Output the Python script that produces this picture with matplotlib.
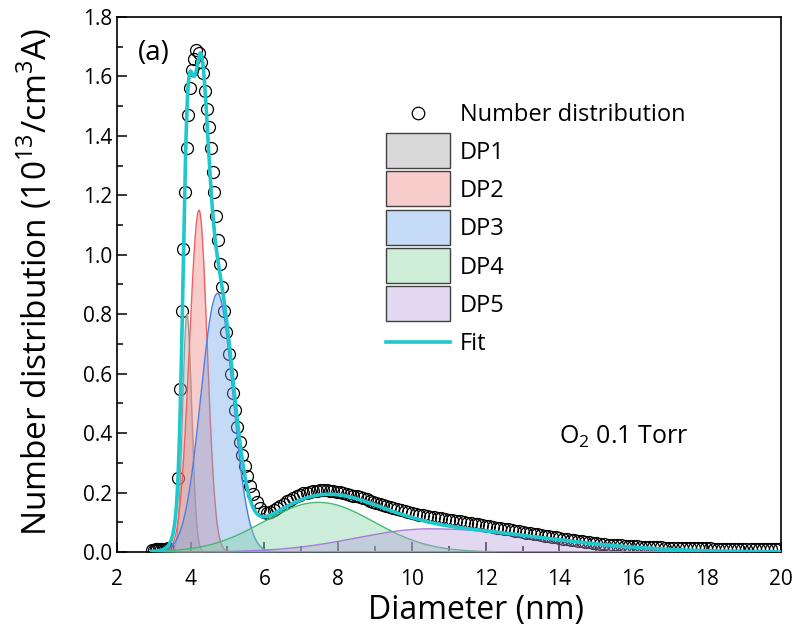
import numpy as np
import matplotlib.pyplot as plt
from matplotlib.patches import Patch, Rectangle
from matplotlib.lines import Line2D
from matplotlib.legend_handler import HandlerPatch

plt.rcParams['font.family'] = ['Open Sans', 'DejaVu Sans']
plt.rcParams['mathtext.fontset'] = 'custom'
plt.rcParams['mathtext.rm'] = 'Open Sans'

diameter = [
    2.95, 3.00, 3.05, 3.10, 3.15, 3.20, 3.25, 3.30, 3.35, 3.40,
    3.67, 3.71, 3.76, 3.80, 3.85, 3.89, 3.93, 3.98, 4.03, 4.09,
    4.16, 4.22, 4.28, 4.33, 4.39, 4.44, 4.49, 4.55, 4.60, 4.64,
    4.69, 4.75, 4.80, 4.85, 4.91, 4.96, 5.03, 5.09, 5.14, 5.21,
    5.27, 5.34, 5.40, 5.47, 5.54, 5.61, 5.70, 5.80, 5.89, 5.98,
    6.07, 6.16, 6.25, 6.34, 6.43, 6.52, 6.61, 6.70, 6.79, 6.88,
    6.97, 7.06, 7.15, 7.24, 7.33, 7.42, 7.51, 7.60, 7.69, 7.78,
    7.87, 7.96, 8.05, 8.14, 8.23, 8.32, 8.41, 8.50, 8.59, 8.68,
    8.77, 8.86, 8.95, 9.04, 9.13, 9.22, 9.31, 9.40, 9.50, 9.60,
    9.70, 9.80, 9.90, 10.00, 10.10, 10.20, 10.30, 10.40, 10.50, 10.60,
    10.70, 10.80, 10.90, 11.00, 11.10, 11.20, 11.30, 11.40, 11.50, 11.60,
    11.70, 11.80, 11.90, 12.00, 12.10, 12.20, 12.30, 12.40, 12.50, 12.60,
    12.70, 12.80, 12.90, 13.00, 13.10, 13.20, 13.30, 13.40, 13.50, 13.60,
    13.70, 13.80, 13.90, 14.00, 14.10, 14.20, 14.30, 14.40, 14.50, 14.60,
    14.70, 14.80, 14.90, 15.00, 15.11, 15.22, 15.33, 15.44, 15.55, 15.66,
    15.77, 15.88, 15.99, 16.10, 16.21, 16.32, 16.43, 16.54, 16.65, 16.76,
    16.87, 16.98, 17.09, 17.20, 17.31, 17.42, 17.53, 17.64, 17.75, 17.86,
    17.97, 18.08, 18.19, 18.30, 18.41, 18.52, 18.63, 18.74, 18.85, 18.96,
    19.07, 19.18, 19.29, 19.40, 19.51, 19.62, 19.73, 19.84, 19.95,
]
number_dist = [
    0.008, 0.008, 0.009, 0.009, 0.010, 0.010, 0.010, 0.011, 0.011, 0.012,
    0.25, 0.55, 0.81, 1.02, 1.21, 1.36, 1.47, 1.56, 1.62, 1.66,
    1.69, 1.68, 1.65, 1.61, 1.55, 1.49, 1.43, 1.36, 1.28, 1.21,
    1.13, 1.05, 0.97, 0.89, 0.81, 0.74, 0.665, 0.60, 0.535, 0.478,
    0.422, 0.371, 0.328, 0.290, 0.255, 0.222, 0.195, 0.168, 0.147, 0.135,
    0.130, 0.133, 0.140, 0.148, 0.156, 0.163, 0.170, 0.176, 0.182, 0.188,
    0.193, 0.197, 0.200, 0.203, 0.205, 0.206, 0.207, 0.207, 0.207, 0.206,
    0.205, 0.203, 0.201, 0.199, 0.196, 0.193, 0.190, 0.187, 0.184, 0.180,
    0.177, 0.173, 0.169, 0.165, 0.162, 0.158, 0.155, 0.152, 0.148, 0.145,
    0.141, 0.138, 0.135, 0.132, 0.129, 0.126, 0.124, 0.121, 0.119, 0.117,
    0.115, 0.113, 0.111, 0.109, 0.107, 0.105, 0.103, 0.101, 0.099, 0.097,
    0.095, 0.093, 0.091, 0.089, 0.086, 0.084, 0.082, 0.080, 0.078, 0.076,
    0.074, 0.071, 0.069, 0.067, 0.065, 0.063, 0.061, 0.059, 0.057, 0.055,
    0.053, 0.051, 0.049, 0.047, 0.045, 0.043, 0.041, 0.039, 0.037, 0.036,
    0.034, 0.033, 0.031, 0.030, 0.028, 0.027, 0.025, 0.024, 0.023, 0.022,
    0.021, 0.020, 0.019, 0.019, 0.018, 0.018, 0.017, 0.017, 0.016, 0.016,
    0.015, 0.015, 0.015, 0.014, 0.014, 0.013, 0.013, 0.013, 0.012, 0.012,
    0.012, 0.012, 0.011, 0.011, 0.011, 0.011, 0.010, 0.010, 0.010, 0.010,
    0.010, 0.009, 0.009, 0.009, 0.009, 0.009, 0.009, 0.009, 0.009,
]

# fitted peaks (centre, height, left / right width)
dp_names = ['DP1', 'DP2', 'DP3', 'DP4', 'DP5']
dp_center = [3.90, 4.23, 4.73, 7.47, 10.5]
dp_height = [0.80, 1.15, 0.87, 0.167, 0.078]
dp_sig_left = [0.115, 0.26, 0.45, 1.5, 2.0]
dp_sig_right = [0.13, 0.22, 0.42, 1.5, 3.1]

dp_fill = ['#a0a0a0', '#f08080', '#70a5e6', '#7fd3a1', '#b99ede']
dp_light = ['#d9d9d9', '#f9cccc', '#c6dbf5', '#cdedd9', '#e3d8f2']
dp_edge = ['#9a9a9a', '#f06060', '#4a7fe6', '#45b872', '#a57ad8']
fit_color = '#1ec8cc'


def split_peak(x, c, h, sl, sr):
    s = np.where(x < c, sl, sr)
    return h * np.exp(-(x - c) ** 2 / (2 * s ** 2))


def tall_box(legend, orig_handle, xdescent, ydescent, width, height, fontsize):
    # legend swatch taller than the text row, as in the original
    h = 25.2
    yc = -ydescent + height / 2
    return Rectangle((-xdescent, yc - h / 2), width, h)


xs = np.linspace(2.95, 20, 3000)

fig = plt.figure(figsize=(8, 6.4), dpi=100)
ax = fig.add_axes([0.146, 0.1375, 0.83, 0.836])

ax.plot(diameter, number_dist, 'o', mfc='none', mec='black', ms=8.6, mew=0.9,
        zorder=2)

fit = np.zeros_like(xs)
for i in range(5):
    yc = split_peak(xs, dp_center[i], dp_height[i], dp_sig_left[i], dp_sig_right[i])
    fit += yc
    ax.fill_between(xs, 0, yc, color=dp_fill[i], alpha=0.4, lw=0, zorder=3)
    ax.plot(xs, yc, color=dp_edge[i], lw=1, zorder=3)

ax.plot(xs, fit, color=fit_color, lw=2.6, zorder=5)

ax.set_xlim(2, 20)
ax.set_ylim(0, 1.8)
ax.set_xticks(np.arange(2, 21, 2))
ax.set_xticks(np.arange(3, 20, 2), minor=True)
ax.set_yticks(np.arange(0, 1.81, 0.2))
ax.set_yticks(np.arange(0.1, 1.8, 0.2), minor=True)
ax.set_yticklabels(['%.1f' % v for v in np.arange(0, 1.81, 0.2)])
ax.tick_params(which='both', direction='in', labelsize=15, width=1.1)
ax.tick_params(which='major', length=7)
ax.tick_params(which='minor', length=4)
ax.tick_params(axis='x', pad=12)
for sp in ax.spines.values():
    sp.set_linewidth(1.2)

ax.set_xlabel('Diameter (nm)', fontsize=23)
ax.xaxis.set_label_coords(0.541, -0.078)
ax.set_ylabel(r'Number distribution (10$^{13}$/cm$^{3}$A)', fontsize=24)
ax.yaxis.set_label_coords(-0.094, 0.505)

ax.text(2.57, 1.68, '(a)', fontsize=20, va='center', ha='left')
ax.text(13.98, 0.387, r'O$_{2}$ 0.1 Torr', fontsize=18, va='center', ha='left')

handles = [Line2D([], [], marker='o', ls='none', mfc='none', mec='black', ms=9, mew=0.9)]
labels = ['Number distribution']
for i in range(5):
    handles.append(Patch(facecolor=dp_light[i], edgecolor='#404040', lw=1))
    labels.append(dp_names[i])
handles.append(Line2D([], [], color=fit_color, lw=2.6))
labels.append('Fit')
ax.legend(handles, labels, loc='upper left', bbox_to_anchor=(0.391, 0.857),
          borderaxespad=0, frameon=False, fontsize=17, handlelength=2.7,
          handletextpad=0.42, labelspacing=0.6, numpoints=1,
          handler_map={Patch: HandlerPatch(patch_func=tall_box)})

fig.savefig('out.png', dpi=100)
